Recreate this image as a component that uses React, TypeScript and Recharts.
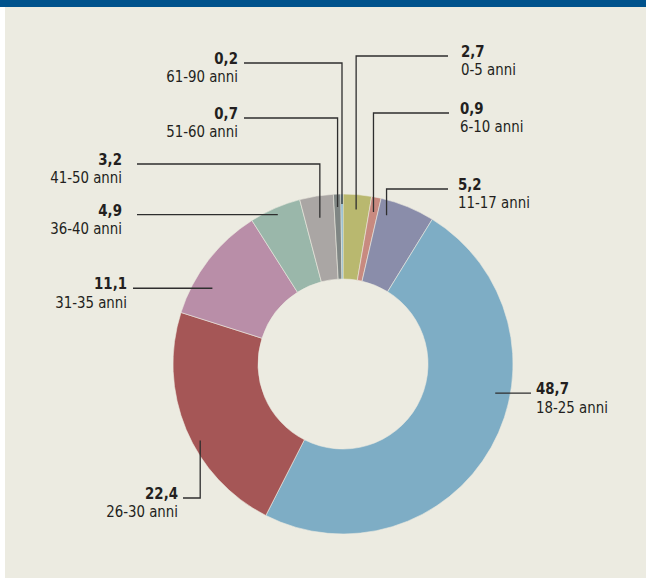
import { Cell, Pie, PieChart } from 'recharts'

const AGE_GROUPS = [
  '0-5 anni',
  '6-10 anni',
  '11-17 anni',
  '18-25 anni',
  '26-30 anni',
  '31-35 anni',
  '36-40 anni',
  '41-50 anni',
  '51-60 anni',
  '61-90 anni',
]

const SHARES = [2.7, 0.9, 5.2, 48.7, 22.4, 11.1, 4.9, 3.2, 0.7, 0.2]

const COLORS = [
  '#b9b86f',
  '#c88a80',
  '#8a8daa',
  '#7eadc5',
  '#a55656',
  '#b98ea8',
  '#9ab7aa',
  '#aaa6a4',
  '#7f8684',
  '#7eb3cf',
]

// leader line layout per slice: angle nudge (deg), anchor radius,
// y of the horizontal run, end x of that run, text x
interface LabelSpot {
  nudge: number
  r: number
  lineY: number | null
  lineEnd: number
  textX: number
  side: 'left' | 'right'
}

const LABEL_SPOTS: LabelSpot[] = [
  { nudge: 0, r: 155, lineY: 56, lineEnd: 448, textX: 461, side: 'right' },
  { nudge: 0, r: 155, lineY: 113, lineEnd: 449, textX: 460, side: 'right' },
  { nudge: 6, r: 155, lineY: 189, lineEnd: 448, textX: 458, side: 'right' },
  { nudge: 18.5, r: 155, lineY: null, lineEnd: 531, textX: 536, side: 'right' },
  { nudge: 5.5, r: 162, lineY: 498, lineEnd: 183, textX: 178, side: 'left' },
  { nudge: 7.5, r: 151, lineY: null, lineEnd: 133, textX: 127, side: 'left' },
  { nudge: 0, r: 163, lineY: null, lineEnd: 137, textX: 122, side: 'left' },
  { nudge: 0, r: 148, lineY: 164, lineEnd: 137, textX: 122, side: 'left' },
  { nudge: 0, r: 157, lineY: 118, lineEnd: 244, textX: 238, side: 'left' },
  { nudge: 0, r: 160, lineY: 63, lineEnd: 244, textX: 238, side: 'left' },
]

const FONT = '"Liberation Sans Narrow", "DejaVu Sans Condensed", "Noto Sans", sans-serif'

const data = AGE_GROUPS.map((name, i) => ({ name, value: SHARES[i] }))

const RAD = Math.PI / 180

function SliceLabel(props: any) {
  const { cx, cy, midAngle, index } = props
  const spot = LABEL_SPOTS[index]
  const a = (midAngle + spot.nudge) * RAD
  const ax = cx + spot.r * Math.cos(a)
  const ay = cy - spot.r * Math.sin(a)
  const lineY = spot.lineY ?? ay
  const points =
    spot.lineY === null
      ? `${ax},${ay} ${spot.lineEnd},${ay}`
      : `${ax},${ay} ${ax},${lineY} ${spot.lineEnd},${lineY}`
  const anchor = spot.side === 'left' ? 'end' : 'start'
  const value = SHARES[index].toFixed(1).replace('.', ',')

  return (
    <g>
      <polyline points={points} fill="none" stroke="#2e2e2e" strokeWidth={1.3} />
      <g transform={`translate(${spot.textX},${lineY}) scale(0.9,1)`}>
        <text
          x={0}
          y={1}
          textAnchor={anchor}
          fontFamily={FONT}
          fontSize={16.5}
          fontWeight={700}
          fill="#231f20"
        >
          {value}
        </text>
        <text
          x={0}
          y={19.5}
          textAnchor={anchor}
          fontFamily={FONT}
          fontSize={16.5}
          fill="#231f20"
        >
          {AGE_GROUPS[index]}
        </text>
      </g>
    </g>
  )
}

export default function App() {
  return (
    <div
      style={{
        position: 'fixed',
        left: 0,
        top: 0,
        width: 646,
        height: 581,
        background: '#ffffff',
      }}
    >
      <div style={{ position: 'absolute', left: 0, top: 0, width: 646, height: 7, background: '#00528c' }} />
      <div style={{ position: 'absolute', left: 5, top: 7, width: 641, height: 571, background: '#ecebe1' }} />
      <div style={{ position: 'absolute', left: 0, top: 0 }}>
        <PieChart width={646} height={581} margin={{ top: 0, right: 0, bottom: 0, left: 0 }}>
          <Pie
            data={data}
            dataKey="value"
            nameKey="name"
            cx={343}
            cy={364}
            innerRadius={85}
            outerRadius={170}
            startAngle={90}
            endAngle={-270}
            stroke="#ecebe1"
            strokeWidth={0.6}
            label={SliceLabel}
            labelLine={false}
            isAnimationActive={false}
          >
            {data.map((entry, index) => (
              <Cell key={entry.name} fill={COLORS[index]} />
            ))}
          </Pie>
        </PieChart>
      </div>
    </div>
  )
}
